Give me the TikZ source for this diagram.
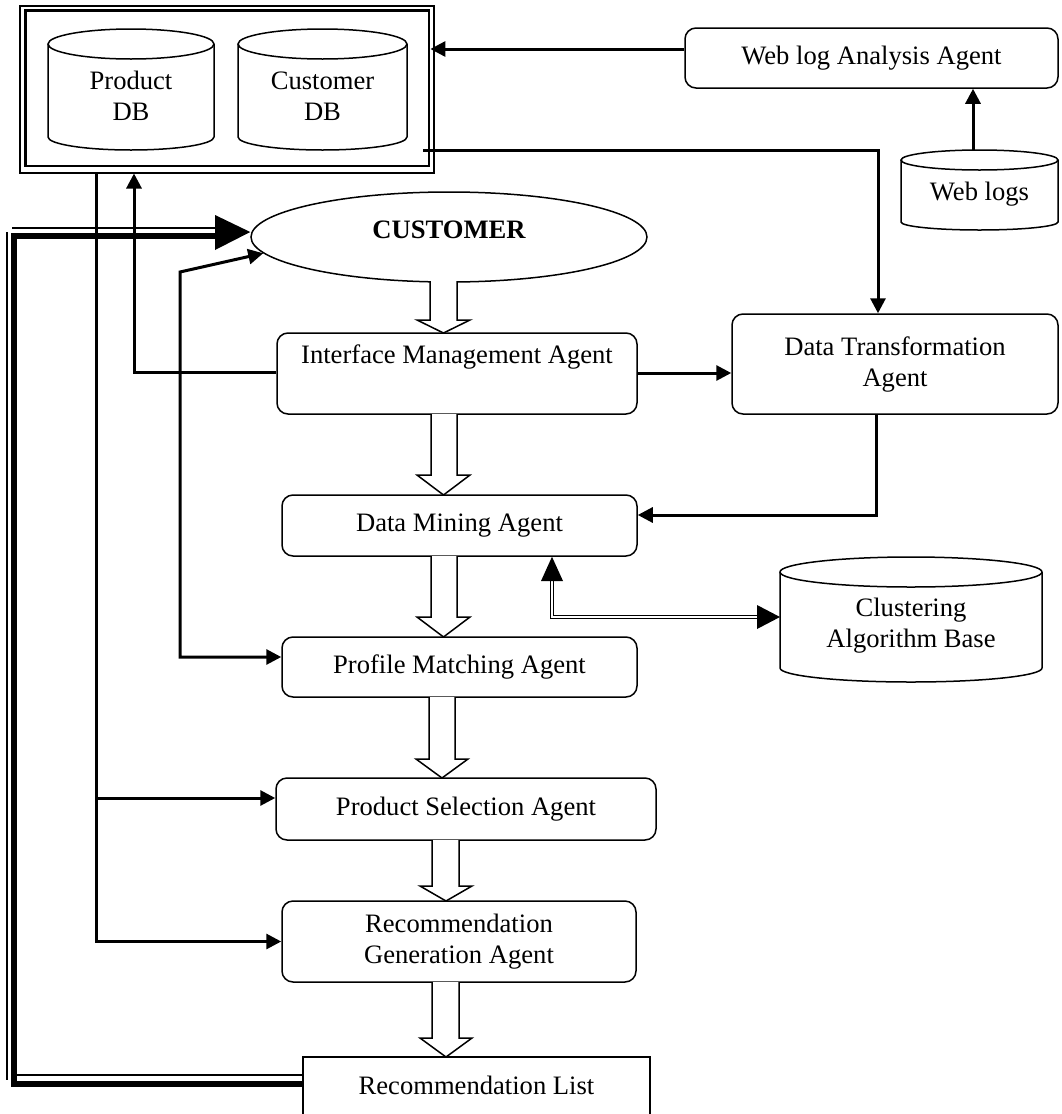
\documentclass[tikz,border=0pt]{standalone}
\usepackage{fontspec}
\setmainfont{Liberation Serif}
\usetikzlibrary{arrows.meta,shapes.geometric}
\newcommand{\diagfont}{\fontsize{26.6}{31}\selectfont}
\newcommand{\hollowdown}[7]{\draw[hol] (#1,#3) -- (#1,#4) -- (#5,#4) -- ({(#5+#6)/2},#7) -- (#6,#4) -- (#2,#4) -- (#2,#3);}
\begin{document}
\begin{tikzpicture}[x=1pt,y=-1pt,
  box/.style={draw, line width=1.5pt, rounded corners=11pt, inner sep=0pt, font=\diagfont, align=center},
  sqbox/.style={draw, line width=1.5pt, inner sep=0pt},
  txt/.style={font=\diagfont, align=center, inner sep=0pt},
  cyl/.style={line width=1.5pt},
  conn/.style={line width=3pt, -{Triangle[length=15pt,width=15pt]}},
  plainline/.style={line width=3pt},
  hol/.style={line width=1.5pt, fill=white, line join=miter}]
\useasboundingbox (0,0) rectangle (1061,1114);

% database frame
\node[sqbox, line width=2pt, minimum width=414pt, minimum height=166.5pt] (dbo) at (227,89.25) {};
\node[sqbox, line width=2.8pt, minimum width=403.5pt, minimum height=155.5pt] (dbi) at (227.25,88.25) {};

% Product DB
\draw[cyl] (48,44) -- (48,137) arc[start angle=180,end angle=360,x radius=83pt,y radius=13pt] -- (214,44);
\draw[cyl] (131,44) ellipse[x radius=83pt,y radius=15pt];
\node[txt] (pdb) at (131,96) {Product\\DB};

% Customer DB
\draw[cyl] (238,44) -- (238,137) arc[start angle=180,end angle=360,x radius=84.5pt,y radius=13pt] -- (407,44);
\draw[cyl] (322.5,44) ellipse[x radius=84.5pt,y radius=15pt];
\node[txt] (cdb) at (322.5,96) {Customer\\DB};

% Web log analysis agent
\node[box, minimum width=373pt, minimum height=60pt] (wla) at (871.5,58) {Web log Analysis Agent};

% Web logs
\draw[cyl] (901,160) -- (901,222) arc[start angle=180,end angle=360,x radius=78.5pt,y radius=8pt] -- (1058,160);
\draw[cyl] (979.5,160) ellipse[x radius=78.5pt,y radius=10pt];
\node[txt] (wl) at (979.5,194) {Web logs};
\coordinate (wltop) at (973,150);

% Customer
\node[draw, ellipse, line width=1.5pt, minimum width=396pt, minimum height=90pt, inner sep=0pt] (cust) at (449,237) {};
\node[txt, font=\diagfont\bfseries] (custt) at (449,230) {CUSTOMER};

% agents
\node[box, minimum width=360pt, minimum height=81pt] (ima) at (457,373.5) {};
\node[txt] (imat) at (457,357) {Interface Management Agent};
\node[box, minimum width=326pt, minimum height=100pt] (dta) at (895,364) {Data Transformation\\Agent};
\node[box, minimum width=355pt, minimum height=61pt] (dma) at (459.5,525.5) {Data Mining Agent};
\node[box, minimum width=355pt, minimum height=60pt] (pma) at (459.5,667) {Profile Matching Agent};
\node[box, minimum width=380pt, minimum height=62pt] (psa) at (466,809) {Product Selection Agent};
\node[box, minimum width=354pt, minimum height=81pt] (rga) at (459,941.5) {Recommendation\\Generation Agent};
\node[sqbox, minimum width=347pt, minimum height=76pt] (rl) at (476.5,1095) {};
\node[txt] (rlt) at (476.5,1085) {Recommendation List};

% Clustering algorithm base
\draw[cyl] (780,572) -- (780,668) arc[start angle=180,end angle=360,x radius=131pt,y radius=14pt] -- (1042,572);
\draw[cyl] (911,572) ellipse[x radius=131pt,y radius=15pt];
\node[txt] (cab) at (911,626) {Clustering\\Algorithm Base};

% hollow flow arrows
\hollowdown{430}{457}{281}{320}{417}{470}{333}
\hollowdown{431}{457}{414}{475}{417}{470}{495}
\hollowdown{431}{457}{556}{617}{417}{470}{637}
\hollowdown{429}{455}{697}{759}{416}{468}{778}
\hollowdown{432}{459}{840}{886}{420}{472}{901}
\hollowdown{432}{459}{982}{1038}{420}{472}{1057}

% connectors
\draw[conn] (wla.west |- 0,49) -- (dbi.east |- 0,49);
\draw[conn] (wltop) -- (wla.south -| wltop);
\draw[conn] (423,150) -| (dta.north -| 878,0);
\draw[conn] (ima.east |- 0,373) -- (dta.west |- 0,373);
\draw[conn] (dta.south -| 876,0) |- (dma.east |- 0,515);
\draw[conn] (ima.west |- 0,372) -| (dbo.south -| 134,0);
\coordinate (br1) at (96,798);
\draw[conn] (dbo.south -| 96,0) |- (rga.west);
\draw[conn] (br1) -- (psa.west |- br1);
\draw[line width=3pt, {Triangle[length=15pt,width=15pt]}-{Triangle[length=15pt,width=15pt]}]
  (cust.185) -- (180,272) -- (180,657) -- (pma.west |- 0,657);

% clustering double arrow
\draw[line width=1.2pt, double=white, double distance=2.5pt] (552,580) -- (552,617) -- (757,617);
\fill (541,581) -- (dma.south -| 552,0) -- (563,581) -- cycle;
\fill (757,605) -- (780,617) -- (757,629) -- cycle;

% feedback line
\draw[line width=1.5pt] (12,228) -- (215,228);
\draw[line width=1.5pt] (7,232) -- (7,1080);
\draw[line width=1.5pt] (16,1075) -- (rl.west |- 0,1075);
\draw[line width=6pt, line join=miter] (rl.west |- 0,1083.5) -- (14,1083.5) -- (14,236) -- (216,236);
\fill (215,215) -- ([yshift=5pt]cust.west) -- (215,250) -- cycle;
\end{tikzpicture}
\end{document}
